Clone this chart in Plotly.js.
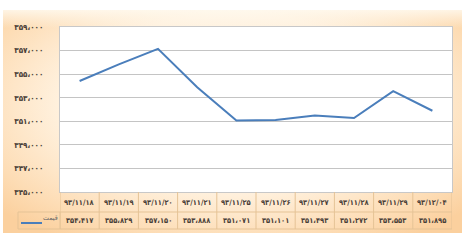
<!DOCTYPE html>
<html>
<head>
<meta charset="utf-8">
<script src="https://cdn.plot.ly/plotly-3.0.1.min.js"></script>
<style>
html,body{margin:0;padding:0;background:#ffffff;}
#wrap{position:relative;width:465px;height:245px;overflow:hidden;background:#ffffff;}
#bg{position:absolute;left:3px;top:10px;width:459px;height:223px;
 background:
  linear-gradient(to bottom, rgba(255,250,240,0.85) 0px, rgba(255,250,240,0) 18px),
  radial-gradient(ellipse 68% 72% at 50% 42%, #fffaf3 0%, #fff1de 55%, #fddcb4 85%, #fbd09e 100%);}
#chart{position:absolute;left:0;top:0;width:465px;height:245px;}
</style>
</head>
<body>
<div id="wrap"><div id="bg"></div><div id="chart"></div></div>
<script>
const dates = ['۹۳/۱۱/۱۸','۹۳/۱۱/۱۹','۹۳/۱۱/۲۰','۹۳/۱۱/۲۱','۹۳/۱۱/۲۵','۹۳/۱۱/۲۶','۹۳/۱۱/۲۷','۹۳/۱۱/۲۸','۹۳/۱۱/۲۹','۹۳/۱۲/۰۴'];
const prices = [354417, 355829, 357150, 353888, 351071, 351101, 351493, 351272, 353553, 351895];
const priceText = ['۳۵۴،۴۱۷','۳۵۵،۸۲۹','۳۵۷،۱۵۰','۳۵۳،۸۸۸','۳۵۱،۰۷۱','۳۵۱،۱۰۱','۳۵۱،۴۹۳','۳۵۱،۲۷۲','۳۵۳،۵۵۳','۳۵۱،۸۹۵'];
const yTickVals = [345000, 347000, 349000, 351000, 353000, 355000, 357000, 359000];
const yTickText = ['۳۴۵،۰۰۰','۳۴۷،۰۰۰','۳۴۹،۰۰۰','۳۵۱،۰۰۰','۳۵۳،۰۰۰','۳۵۵،۰۰۰','۳۵۷،۰۰۰','۳۵۹،۰۰۰'];
const seriesName = 'قیمت';

const idx = dates.map((d,i)=>i);
const lineColor = '#4a7ebb';
const border = '#e5c396';
const txtColor = '#4a4038';
const font = 'DejaVu Sans Condensed, DejaVu Sans';

const shapes = [];
const annotations = [];
[[0,1,-20],[0,1,-37]].forEach(([a,b,yy])=>{
  shapes.push({type:'line',xref:'paper',yref:'paper',ysizemode:'pixel',yanchor:0,x0:a,x1:b,y0:yy,y1:yy,line:{color:border,width:1}});
});
shapes.push({type:'rect',xref:'paper',xsizemode:'pixel',xanchor:0,x0:-42,x1:0,yref:'paper',ysizemode:'pixel',yanchor:0,y0:-20,y1:-37,line:{color:border,width:1},fillcolor:'rgba(0,0,0,0)'});
for(let i=0;i<=dates.length;i++){
  shapes.push({type:'line',xref:'x',x0:i-0.5,x1:i-0.5,yref:'paper',ysizemode:'pixel',yanchor:0,y0:0,y1:-37,line:{color:border,width:1}});
}
shapes.push({type:'line',xref:'paper',xsizemode:'pixel',xanchor:0,x0:-39,x1:-18,yref:'paper',ysizemode:'pixel',yanchor:0,y0:-31,y1:-31,line:{color:lineColor,width:2}});
annotations.push({xref:'paper',x:0,xshift:-10,yref:'paper',y:0,yshift:-26,text:seriesName,showarrow:false,font:{family:font,size:7,color:'#6a6a6a'},xanchor:'center',yanchor:'middle'});

dates.forEach((d,i)=>{
  annotations.push({xref:'x',x:i,yref:'paper',y:0,yshift:-10,text:'<b>'+d+'</b>',showarrow:false,font:{family:font,size:7.5,color:txtColor},xanchor:'center',yanchor:'middle'});
  annotations.push({xref:'x',x:i,yref:'paper',y:0,yshift:-28,text:'<b>'+priceText[i]+'</b>',showarrow:false,font:{family:font,size:7.5,color:txtColor},xanchor:'center',yanchor:'middle'});
});

const data = [{
  x: idx, y: prices, type:'scatter', mode:'lines', name: seriesName,
  line:{color:lineColor,width:2}, hoverinfo:'skip'
}];

const layout = {
  width:465, height:245,
  margin:{l:60,r:13,t:27,b:53,pad:0},
  paper_bgcolor:'rgba(0,0,0,0)',
  plot_bgcolor:'#ffffff',
  showlegend:false,
  xaxis:{range:[-0.5,9.5],showticklabels:false,showgrid:false,zeroline:false,
         showline:true,mirror:true,linecolor:'#c8c8c8',linewidth:1,fixedrange:true},
  yaxis:{range:[345000,359000],tickvals:yTickVals,ticktext:yTickText,
         showgrid:true,gridcolor:'#c4c4c4',gridwidth:1,zeroline:false,
         showline:true,mirror:true,linecolor:'#c8c8c8',linewidth:1,
         ticks:'',ticklabelstandoff:14,
         tickfont:{family:font,size:8,color:txtColor,weight:'bold'},fixedrange:true},
  shapes:shapes,
  annotations:annotations
};
Plotly.newPlot('chart', data, layout, {staticPlot:true,displayModeBar:false});
</script>
</body>
</html>
